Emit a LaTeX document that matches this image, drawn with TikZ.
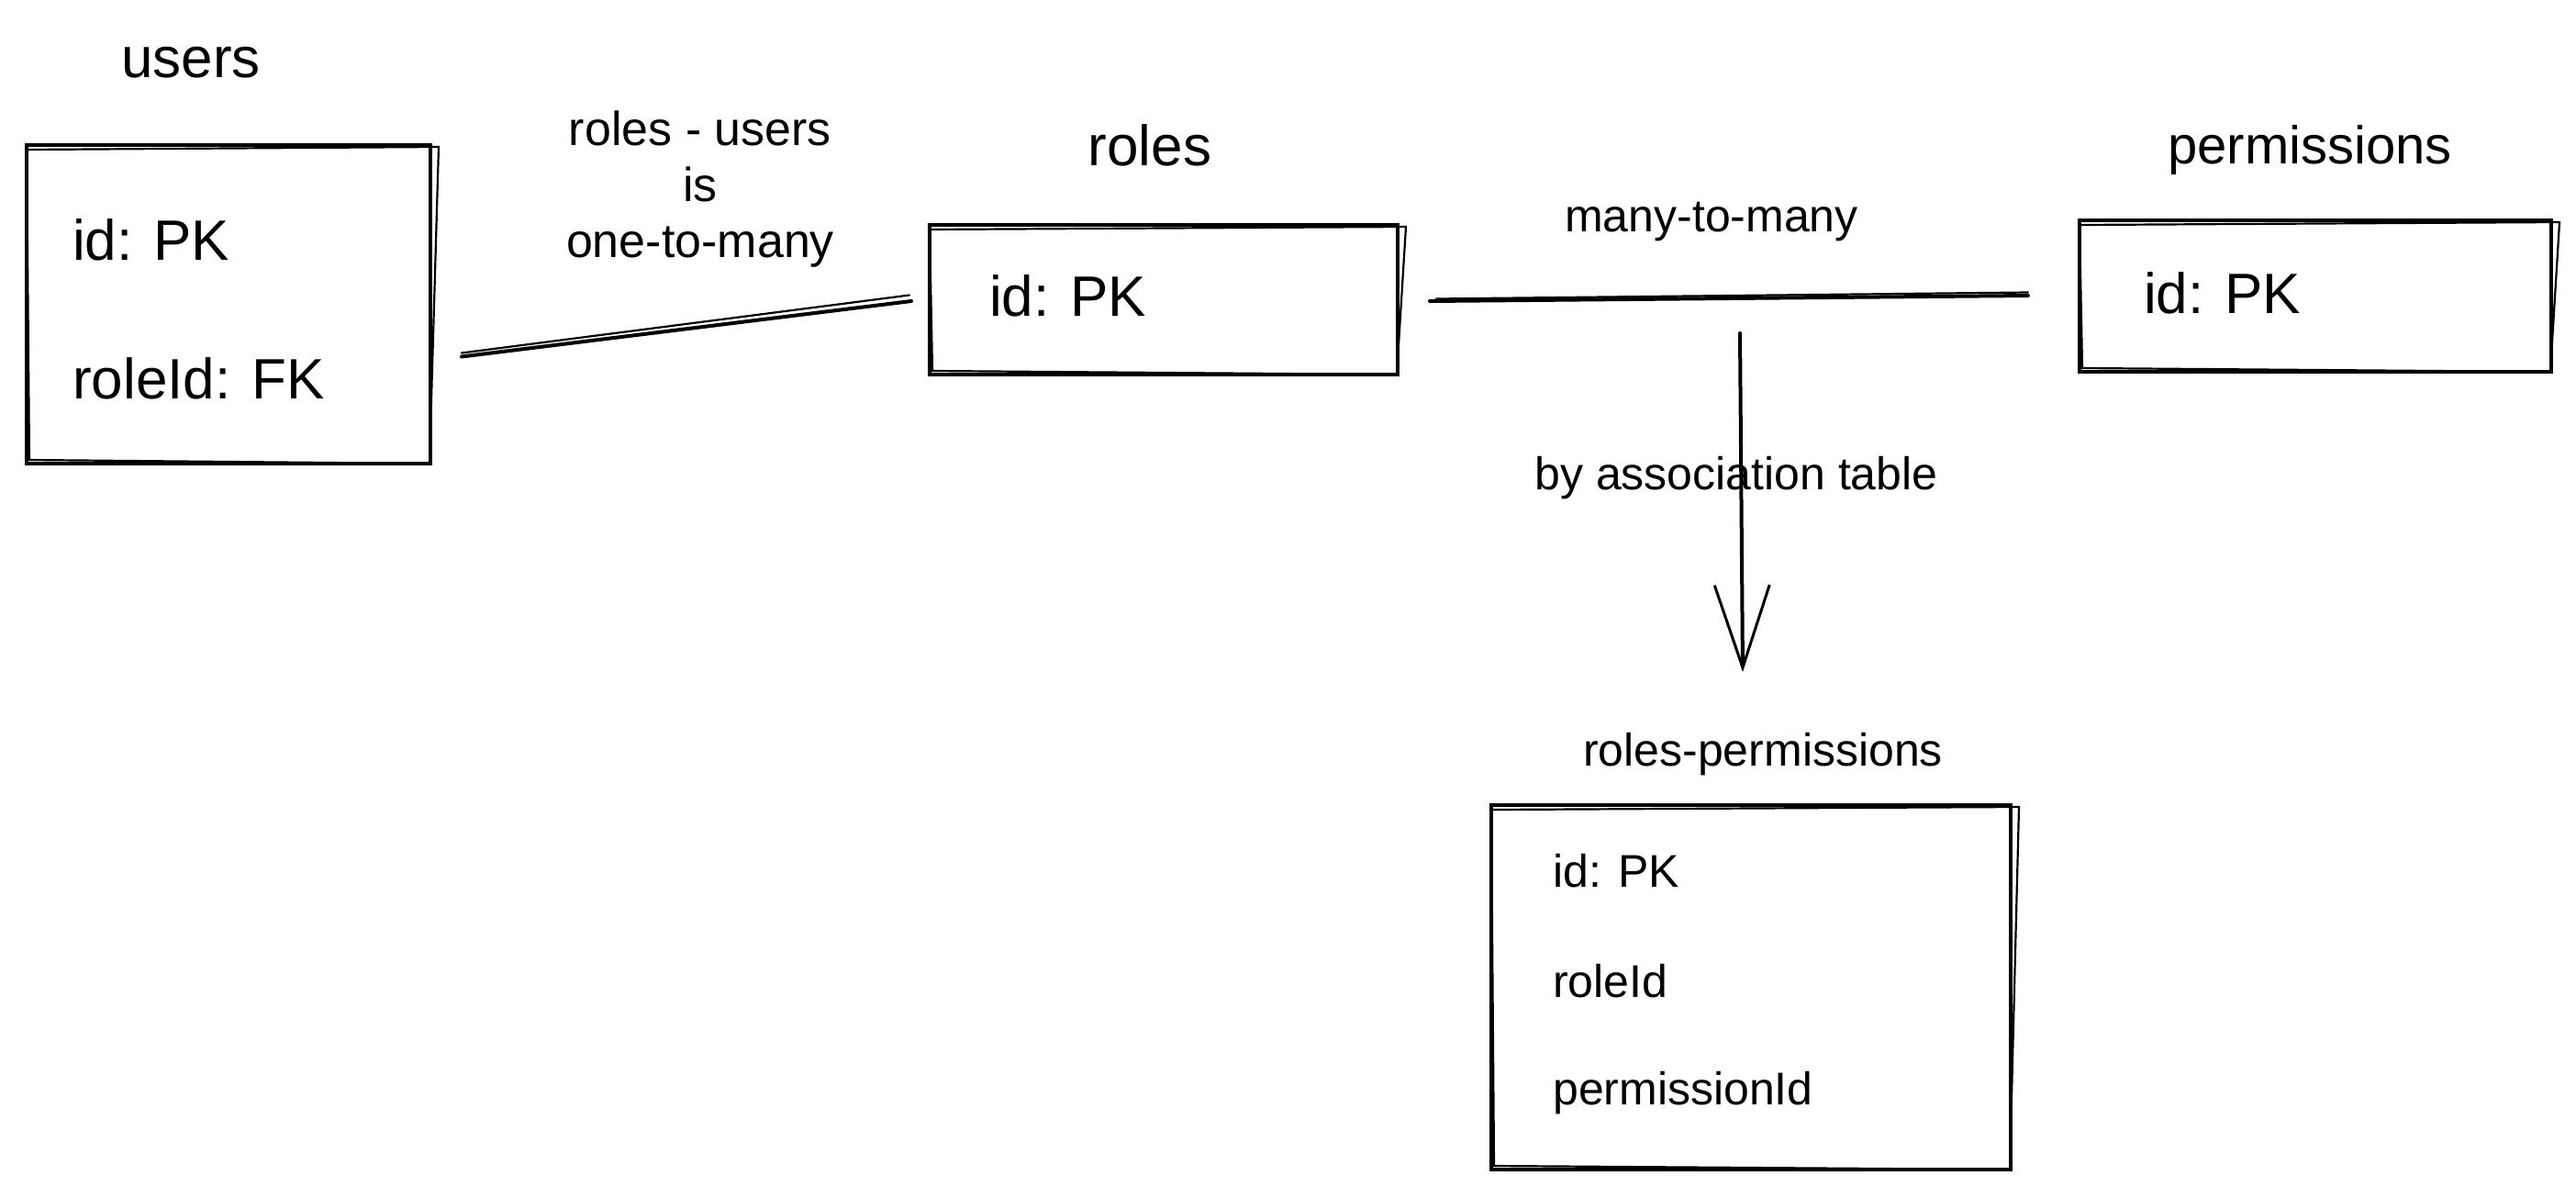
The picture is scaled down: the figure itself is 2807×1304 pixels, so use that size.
\documentclass[tikz,border=0pt]{standalone}
\usepackage{fontspec}
\setmainfont{Liberation Sans}
\usetikzlibrary{calc,arrows.meta}
\tikzset{
  box/.style={draw, line width=4pt, inner sep=0pt},
  big/.style={font=\fontsize{62}{70}\selectfont, inner sep=0pt},
  small/.style={font=\fontsize{50}{61}\selectfont, inner sep=0pt},
  field/.style={anchor=west},
  ln/.style={line width=4pt, line cap=round},
  thinln/.style={line width=2.2pt, line cap=round},
}
\newcommand\sketchbox[1]{%
  \draw[thinln] ([shift={(2,7)}]#1.north west) -- ([shift={(7,4)}]#1.north east)
    -- ([shift={(-3,-2)}]#1.south east) -- ([shift={(5,-6)}]#1.south west) -- cycle;}
\begin{document}
\begin{tikzpicture}[x=1pt,y=-1pt]
  \useasboundingbox[fill=white] (0,0) rectangle (2807,1304);

  % boxes
  \node[box, minimum width=440pt, minimum height=347pt] (users) at (249,331.5) {};
  \node[box, minimum width=510pt, minimum height=163pt] (roles) at (1268,326.5) {};
  \node[box, minimum width=514pt, minimum height=165pt] (perms) at (2523,322.5) {};
  \node[box, minimum width=566pt, minimum height=397pt] (rp) at (1908,1075.5) {};
  \sketchbox{users}
  \sketchbox{roles}
  \sketchbox{perms}
  \sketchbox{rp}

  % titles
  \node[big] (tusers) at (208,68) {users};
  \node[big] (troles) at (1253,158) {roles};
  \node[big, font=\fontsize{58}{66}\selectfont] (tperms) at (2517,164) {permissions};
  \node[small] (trp) at (1921,822) {roles-permissions};

  % fields
  \node[big, field] (u1) at (79,261) {id: PK};
  \node[big, field] (u2) at (79,412) {roleId: FK};
  \node[big, field] (r1) at (1078,322) {id: PK};
  \node[big, field] (p1) at (2336,319) {id: PK};
  \node[small, field] (a1) at (1692,949) {id: PK};
  \node[small, field] (a2) at (1692,1069) {roleId};
  \node[small, field] (a3) at (1692,1191) {permissionId};

  % connectors
  \draw[ln] ($(users.east)+(32,57)$) -- ($(roles.west)+(-18,1.5)$);
  \draw[thinln] ($(users.east)+(32,53)$) -- ($(roles.west)+(-20,-5)$);
  \draw[ln] ($(roles.east)+(33,1.5)$) -- ($(perms.west)+(-54,-0.5)$);
  \draw[thinln] ($(roles.east)+(40,-1)$) -- ($(perms.west)+(-54,-4)$);

  \coordinate (astart) at ($(rp.north)+(-12,-512)$);
  \coordinate (aend) at ($(rp.north)+(-9,-143)$);
  \draw[ln, -{Straight Barb[length=90pt, width=60pt, line width=3pt]}] (astart) -- (aend);

  % labels
  \node[small, align=center, font=\fontsize{52}{61}\selectfont] (l1) at (763,206) {roles - users\\is\\one-to-many};
  \node[small] (l2) at (1865,242) {many-to-many};
  \node[small] (l3) at (1892,521) {by association table};
\end{tikzpicture}
\end{document}
